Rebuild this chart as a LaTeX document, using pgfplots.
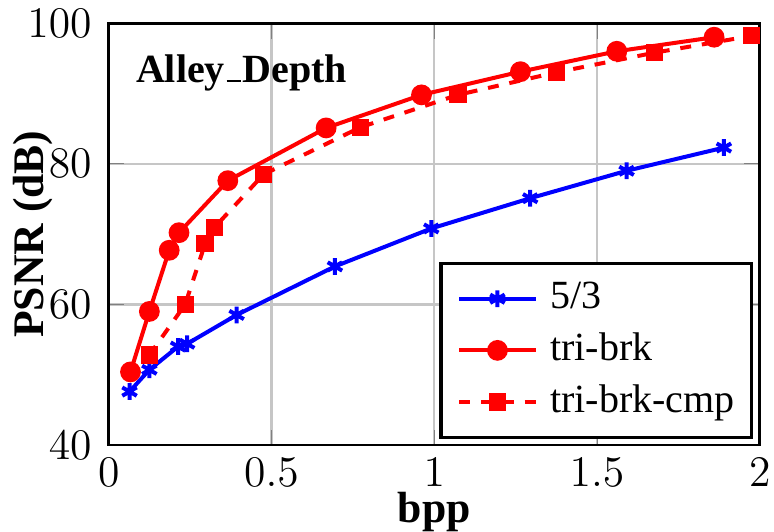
\documentclass[border=0pt]{standalone}
\usepackage{fontspec}
\setmainfont{Liberation Serif}
\usepackage{pgfplots}
\pgfplotsset{compat=1.18}
\begin{document}
\begin{tikzpicture}
\begin{axis}[
  scale only axis, width=179pt, height=116pt,
  xmin=0, xmax=2, ymin=40, ymax=100,
  xtick={0,0.5,1,1.5,2}, ytick={40,60,80,100},
  grid=major, major grid style={gray!45, line width=0.6pt},
  axis line style={line width=0.8pt},
  xlabel={\textbf{bpp}}, ylabel={\textbf{PSNR (dB)}},
  label style={font=\fontsize{12}{14}\selectfont},
  xlabel style={at={(axis description cs:0.5,0)}, anchor=north, yshift=-12.8pt, inner sep=0pt},
  ylabel style={at={(axis description cs:-0.117,0.5)}, anchor=center, inner sep=3.5pt},
  tick label style={font=\fontsize{12}{14}\selectfont, inner xsep=1pt, inner ysep=2.5pt},
  xticklabel style={inner ysep=0pt, yshift=-3.5pt},
  yticklabel style={xshift=-3.5pt},
  legend style={at={(0.9894,0.014)}, anchor=south east, font=\fontsize{11}{13}\selectfont,
    draw=black, line width=0.9pt, inner sep=4.5pt, row sep=3.7pt, column sep=3.5pt,
    nodes={inner sep=0pt, text height=8pt, text depth=2.5pt}},
  legend cell align=left,
  legend image code/.code={\draw[mark repeat=2, mark phase=2] plot coordinates {(0pt,0pt) (10.5pt,0pt) (21pt,0pt)};},
]
\addplot[blue, line width=1.1pt, mark=asterisk, mark size=2.3pt, mark options={line width=1.1pt}] coordinates {
(0.064,47.6) (0.125,50.7) (0.213,54.0) (0.241,54.4) (0.393,58.5) (0.695,65.4) (0.991,70.8) (1.295,75.1) (1.591,79.0) (1.89,82.3)};
\addplot[red, line width=1.1pt, mark=*, mark size=2.3pt] coordinates {
(0.067,50.4) (0.125,59.0) (0.186,67.7) (0.216,70.2) (0.366,77.6) (0.668,85.1) (0.961,89.8) (1.265,93.1) (1.561,96.0) (1.86,98.0)};
\addplot[red, line width=1.1pt, dashed, mark=square*, mark size=1.8pt, mark options={solid}] coordinates {
(0.125,52.8) (0.235,60.0) (0.296,68.6) (0.326,71.0) (0.476,78.5) (0.774,85.2) (1.073,89.8) (1.375,93.0) (1.677,95.8) (1.976,98.2)};
\legend{5/3, tri-brk, tri-brk-cmp}
\node[anchor=north west, inner sep=0pt, font=\fontsize{11}{13}\selectfont\bfseries] at (axis description cs:0.041,0.927) {Alley\kern0.04em\rule{0.36em}{0.07em}\kern0.04em Depth};
\end{axis}
\end{tikzpicture}
\end{document}
